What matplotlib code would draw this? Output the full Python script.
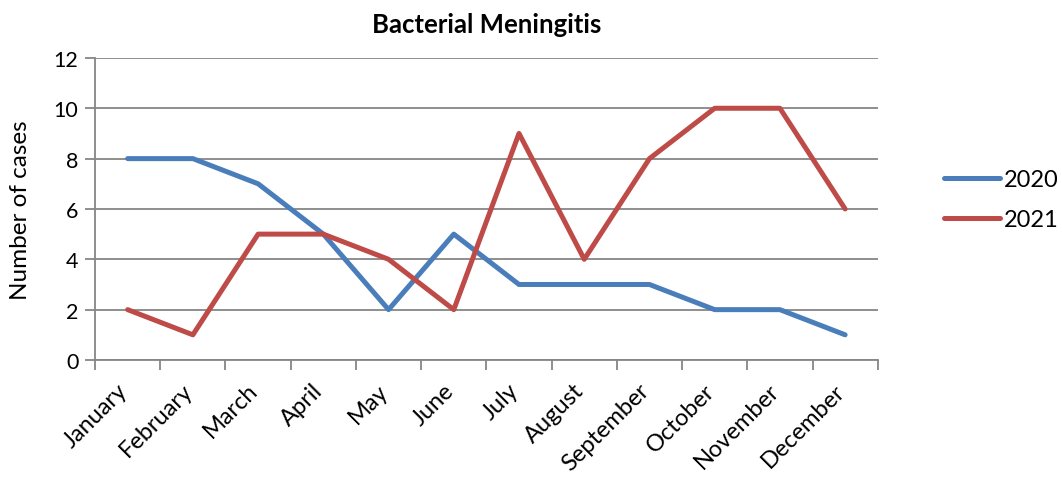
import numpy as np
import matplotlib.pyplot as plt
import matplotlib.transforms as mtransforms

plt.rcParams['font.family'] = ['Lato', 'DejaVu Sans']

months = ['January', 'February', 'March', 'April', 'May', 'June', 'July',
          'August', 'September', 'October', 'November', 'December']
cases_2020 = [8, 8, 7, 5, 2, 5, 3, 3, 3, 2, 2, 1]
cases_2021 = [2, 1, 5, 5, 4, 2, 9, 4, 8, 10, 10, 6]

grey = '#868686'

fig = plt.figure(figsize=(10.62, 4.81), dpi=100)
ax = fig.add_axes([0.0895, 0.2495, 0.737, 0.628])

x = np.arange(len(months))
ax.plot(x, cases_2020, color='#4A7EBB', lw=3.6, label='2020', solid_capstyle='round')
ax.plot(x, cases_2021, color='#BE4B48', lw=3.6, label='2021', solid_capstyle='round')

ax.set_xlim(-0.5, len(months) - 0.5)
ax.set_ylim(0, 12)
ax.set_yticks(range(0, 13, 2))
ax.yaxis.grid(True, color=grey, lw=1.3)
ax.set_axisbelow(True)

# category ticks sit on the boundaries, labels on the centres
ax.set_xticks(np.arange(-0.5, len(months)), minor=False)
ax.set_xticklabels([])
ax.set_xticks(x, minor=True)
ax.set_xticklabels(months, minor=True, rotation=45, ha='right', rotation_mode='anchor', fontsize=17)
ax.tick_params(axis='x', which='minor', length=0, pad=14)
ax.tick_params(axis='x', which='major', length=7, width=1.3, color=grey, direction='out')
ax.tick_params(axis='y', length=7, width=1.3, color=grey, direction='out', labelsize=15.5, pad=5)

# nudge month labels a bit to the left
shift = mtransforms.ScaledTranslation(-8 / 72, 0, fig.dpi_scale_trans)
for lab in ax.get_xticklabels(minor=True):
    lab.set_transform(lab.get_transform() + shift)

for s in ['top', 'right']:
    ax.spines[s].set_visible(False)
for s in ['left', 'bottom']:
    ax.spines[s].set_color(grey)
    ax.spines[s].set_linewidth(1.3)

ax.set_ylabel('Number of cases', fontsize=17.5, labelpad=16)
ax.set_title('Bacterial Meningitis', fontsize=18.5, fontweight='bold', pad=19)

ax.legend(loc='center left', bbox_to_anchor=(1.057, 0.53), frameon=False,
          fontsize=17, handlelength=2.4, labelspacing=0.8, handletextpad=0.15)

fig.savefig('out.png', dpi=100)
